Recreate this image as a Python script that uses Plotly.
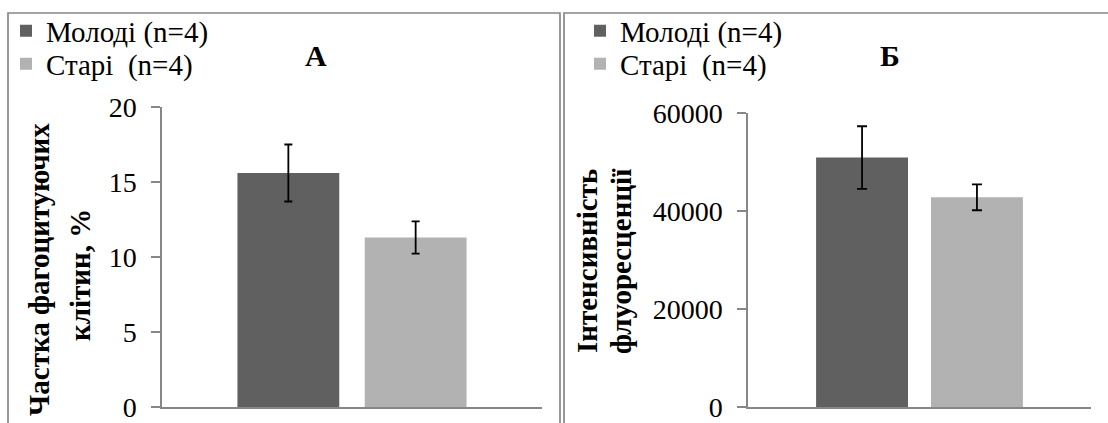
import plotly.graph_objects as go

W, H = 1108, 423

groups = ["Молоді (n=4)", "Старі\u00a0 (n=4)"]
colors = ["#606060", "#B2B2B2"]
category = [" "]

# Panel A: share of phagocytic cells, %
a_means = [15.6, 11.3]
a_errs = [1.9, 1.07]
# Panel Б: fluorescence intensity
b_means = [50900, 42800]
b_errs = [6400, 2650]

a_ticks = [0, 5, 10, 15, 20]
b_ticks = [0, 20000, 40000, 60000]

FONT = "Liberation Serif"
AXIS_GREY = "#878787"

def px_x(p):
    return p / W

def px_y(p):
    return 1 - p / H

fig = go.Figure()

legend_ids_a = ["legend", "legend2"]
legend_ids_b = ["legend3", "legend4"]

for name, col, m, e, lg in zip(groups, colors, a_means, a_errs, legend_ids_a):
    fig.add_trace(go.Bar(
        x=category, y=[m], name=name, marker=dict(color=col, line=dict(width=0)),
        error_y=dict(type="data", array=[e], color="black", thickness=1.8, width=4),
        xaxis="x", yaxis="y", legend=lg,
    ))

for name, col, m, e, lg in zip(groups, colors, b_means, b_errs, legend_ids_b):
    fig.add_trace(go.Bar(
        x=category, y=[m], name=name, marker=dict(color=col, line=dict(width=0)),
        error_y=dict(type="data", array=[e], color="black", thickness=1.8, width=5),
        xaxis="x2", yaxis="y2", legend=lg,
    ))

common_y = dict(
    showline=True, linecolor=AXIS_GREY, linewidth=1.5,
    ticks="outside", ticklen=9, tickcolor=AXIS_GREY, tickwidth=1.5,
    showgrid=False, zeroline=False,
    tickfont=dict(family=FONT, size=28, color="black"),
    ticklabelstandoff=9,
)
common_x = dict(
    showline=True, linecolor=AXIS_GREY, linewidth=1.5,
    showticklabels=False, ticks="", showgrid=False, zeroline=False,
)

def leg(xpx, ypx):
    return dict(x=px_x(xpx), y=px_y(ypx), xanchor="left", yanchor="middle",
                font=dict(family=FONT, size=29, color="black"),
                bgcolor="rgba(0,0,0,0)", itemwidth=30, indentation=-6)

fig.update_layout(
    width=W, height=H,
    margin=dict(l=0, r=0, t=0, b=0, autoexpand=False),
    paper_bgcolor="white", plot_bgcolor="white",
    font=dict(family=FONT, color="black"),
    barmode="group", bargap=0.33, bargroupgap=0.2,
    xaxis=dict(domain=[px_x(162), px_x(542)], anchor="y", **common_x),
    yaxis=dict(domain=[px_y(407), px_y(107)], anchor="x", range=[0, 20],
               tickvals=a_ticks, **common_y),
    xaxis2=dict(domain=[px_x(748), px_x(1091)], anchor="y2", **common_x),
    yaxis2=dict(domain=[px_y(407), px_y(113)], anchor="x2", range=[0, 60000],
                tickvals=b_ticks, tickformat="d", **common_y),
    legend=leg(12, 31),
    legend2=leg(12, 64),
    legend3=leg(586, 31),
    legend4=leg(586, 64),
    showlegend=True,
)

# panel frames
fig.add_shape(type="rect", xref="paper", yref="paper",
              x0=px_x(8), x1=px_x(560), y0=-0.2, y1=px_y(13),
              line=dict(color=AXIS_GREY, width=1.7), fillcolor="rgba(0,0,0,0)", layer="below")
fig.add_shape(type="rect", xref="paper", yref="paper",
              x0=px_x(564), x1=1.2, y0=-0.2, y1=px_y(13),
              line=dict(color=AXIS_GREY, width=1.7), fillcolor="rgba(0,0,0,0)", layer="below")

# panel letters
fig.add_annotation(text="<b>А</b>", xref="paper", yref="paper", x=px_x(316), y=px_y(56),
                   xanchor="center", yanchor="middle", showarrow=False,
                   font=dict(family=FONT, size=30, color="black"))
fig.add_annotation(text="<b>Б</b>", xref="paper", yref="paper", x=px_x(890), y=px_y(56),
                   xanchor="center", yanchor="middle", showarrow=False,
                   font=dict(family=FONT, size=30, color="black"))

# y-axis titles (two lines each)
ytitles = [
    ("Частка фагоцитуючих", 39, 270),
    ("клітин, %", 80, 275),
    ("Інтенсивність", 587, 261),
    ("флуоресценції", 621, 261),
]
for txt, cx, cy in ytitles:
    fig.add_annotation(text=f"<b>{txt}</b>", xref="paper", yref="paper",
                       x=px_x(cx), y=px_y(cy), xanchor="center", yanchor="middle",
                       textangle=-90, showarrow=False,
                       font=dict(family=FONT, size=29, color="black"))

fig.write_html("out.html")
